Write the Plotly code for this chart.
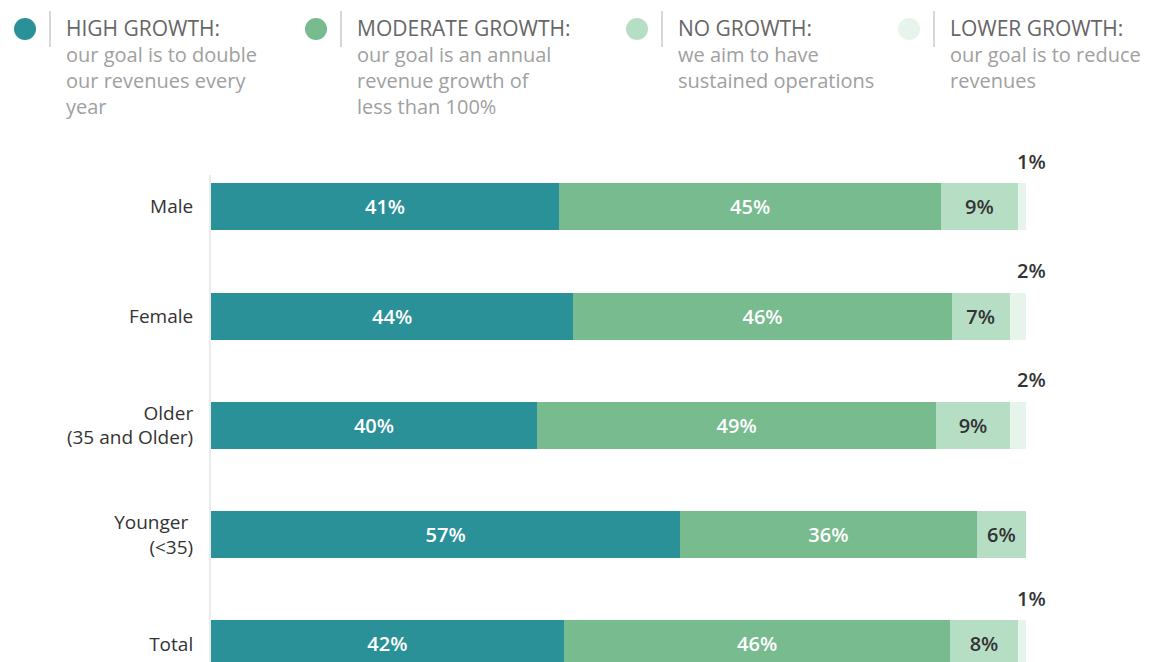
import plotly.graph_objects as go

# survey data (share of respondents, %)
groups = ["Male", "Female", "Older<br>(35 and Older)", "Younger <br>(&lt;35)", "Total"]
high_growth = [41, 44, 40, 57, 42]
moderate_growth = [45, 46, 49, 36, 46]
no_growth = [9, 7, 9, 6, 8]
lower_growth = [1, 2, 2, 0, 1]

series_names = ["HIGH GROWTH:", "MODERATE GROWTH:", "NO GROWTH:", "LOWER GROWTH:"]
series_desc = [
    "our goal is to double<br>our revenues every<br>year",
    "our goal is an annual<br>revenue growth of<br>less than 100%",
    "we aim to have<br>sustained operations",
    "our goal is to reduce<br>revenues",
]
colors = ["#2b9199", "#78bb8f", "#b6dec5", "#e7f4ec"]
label_colors = ["white", "white", "#333333", "#333333"]

FONT = "Open Sans"
# the page puts the figure 8px in from the top-left corner
OFF = 8
W, H = 1153 - OFF, 662 - OFF
L, R, T, B = 211 - OFF, 127, 175 - OFF, 0
pw, ph = W - L - R, H - T - B


def fx(px):
    return (px - OFF - L) / pw


def fy(py):
    return (H - B - (py - OFF)) / ph


fig = go.Figure()
for i, vals in enumerate([high_growth, moderate_growth, no_growth, lower_growth]):
    text = [f"{v}%" if v > 0 else "" for v in vals] if i < 3 else None
    fig.add_trace(go.Bar(
        y=groups, x=vals, orientation="h",
        name=series_names[i],
        marker=dict(color=colors[i], line=dict(width=0)),
        text=text, textposition="inside" if text else "none",
        insidetextanchor="middle", textangle=0,
        textfont=dict(family=FONT, size=20, color=label_colors[i], weight=600),
        constraintext="none",
        hoverinfo="skip",
    ))

# small "lower growth" values sit above the end of each bar
for g, v in zip(groups, lower_growth):
    if v > 0:
        fig.add_annotation(x=100, y=g, xref="x", yref="y", text=f"{v}%",
                           showarrow=False, xanchor="center", yanchor="bottom",
                           xshift=5, yshift=30,
                           font=dict(family=FONT, size=20, color="#333333", weight=600))

# custom legend across the top
legend_text_x = [66, 357, 678, 950]
for i, tx in enumerate(legend_text_x):
    cx, cy, r = tx - 41, 29, 11
    fig.add_shape(type="circle", xref="paper", yref="paper",
                  x0=fx(cx - r), x1=fx(cx + r), y0=fy(cy + r), y1=fy(cy - r),
                  fillcolor=colors[i], line=dict(width=0))
    fig.add_shape(type="line", xref="paper", yref="paper",
                  x0=fx(tx - 16), x1=fx(tx - 16), y0=fy(11), y1=fy(47),
                  line=dict(color="#c8c8c8", width=1.5))
    label = (f"<span style='color:#666666;font-size:21px'>{series_names[i]}</span>"
             f"<br>{series_desc[i]}")
    fig.add_annotation(x=fx(tx - 2), y=fy(12), xref="paper", yref="paper",
                       text=label, showarrow=False,
                       xanchor="left", yanchor="top", align="left",
                       font=dict(family=FONT, size=20, color="#a0a0a0", weight=500))

fig.update_layout(
    barmode="stack", barnorm="percent", bargap=0.57,
    width=W, height=H,
    margin=dict(l=L, r=R, t=T, b=B, pad=0),
    plot_bgcolor="white", paper_bgcolor="white",
    showlegend=False,
    font=dict(family=FONT, size=19, color="#333333"),
)
fig.update_xaxes(range=[0, 100], visible=False, fixedrange=True)
fig.update_yaxes(range=[4.165, -0.29], showgrid=False, zeroline=False,
                 showline=True, linecolor="#ebebeb", linewidth=2,
                 ticks="outside", ticklen=12, tickcolor="rgba(0,0,0,0)",
                 tickfont=dict(family=FONT, size=19, color="#333333"))

fig.write_html("out.html")
